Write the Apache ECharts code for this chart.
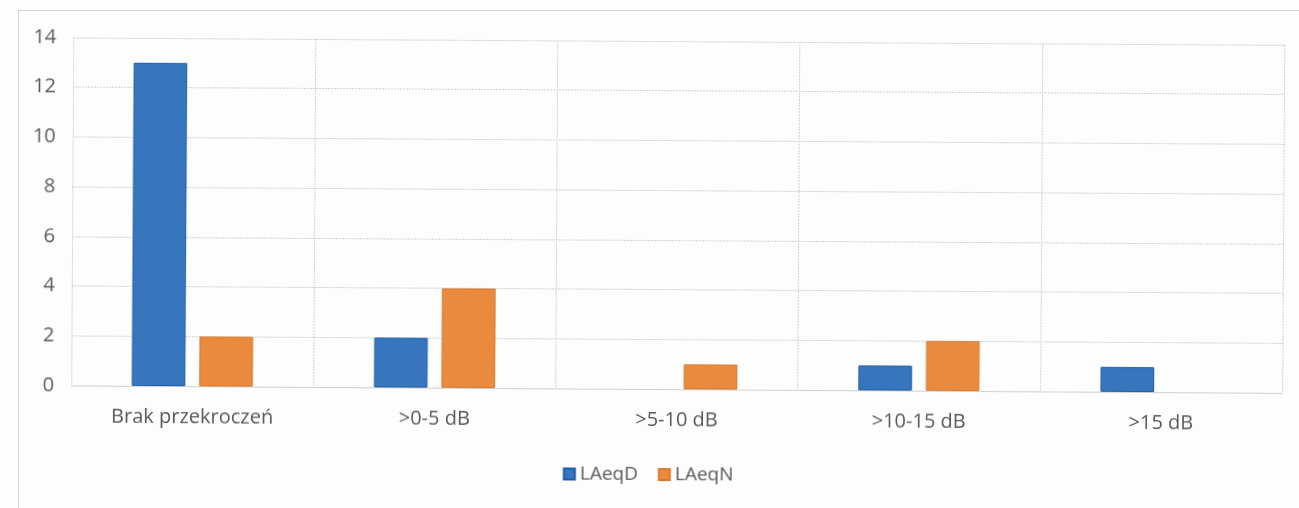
<!DOCTYPE html>
<html>
<head>
<meta charset="utf-8">
<script src="https://cdn.jsdelivr.net/npm/echarts@6/dist/echarts.min.js"></script>
<style>
  html, body { margin: 0; padding: 0; background: #fdfdfd; overflow: hidden; }
  #frame {
    position: absolute; left: 18px; top: 10px; width: 1300px; height: 520px;
    border-left: 1px solid #d4d4d4; border-top: 1px solid #d4d4d4;
  }
  #chart {
    position: absolute; left: 0; top: 0; width: 1299px; height: 508px;
    transform: rotate(0.35deg); transform-origin: 650px 254px;
  }
</style>
</head>
<body>
<div id="frame"></div>
<div id="chart"></div>
<script>
// Number of measurement points by exceedance class, day and night
const categories = ['Brak przekroczeń', '>0-5 dB', '>5-10 dB', '>10-15 dB', '>15 dB'];
const laeqD = [13, 2, 0, 1, 1];
const laeqN = [2, 4, 1, 2, 0];
const yTicks = [0, 2, 4, 6, 8, 10, 12, 14];

const textColor = '#595959';
const font = '"Open Sans", "Noto Sans", sans-serif';
const fontSize = 20;
const gridColor = '#d0d0d0';

// zero values get no outline so they leave no trace on the baseline
const barData = values => values.map(v => (v === 0 ? { value: v, itemStyle: { borderWidth: 0, opacity: 0 } } : v));

const chart = echarts.init(document.getElementById('chart'), null, { renderer: 'canvas' });
chart.setOption({
  backgroundColor: 'transparent',
  animation: false,
  grid: { left: 72, right: 16, top: 41, bottom: 119, containLabel: false },
  legend: {
    bottom: 19, left: 'center',
    itemWidth: 11, itemHeight: 11, itemGap: 20,
    icon: 'rect',
    textStyle: { color: textColor, fontFamily: font, fontSize: 19 },
    data: ['LAeqD', 'LAeqN']
  },
  xAxis: {
    type: 'category',
    data: categories,
    axisLine: { show: true, lineStyle: { color: gridColor, width: 1 } },
    axisTick: { show: false },
    splitLine: { show: true, lineStyle: { color: gridColor, type: [2, 1] } },
    axisLabel: { color: textColor, fontFamily: font, fontSize: fontSize, margin: 21 }
  },
  yAxis: {
    type: 'value',
    min: yTicks[0], max: yTicks[yTicks.length - 1], interval: 2,
    axisLine: { show: false },
    axisTick: { show: false },
    splitLine: { show: true, lineStyle: { color: gridColor, type: [2, 1] } },
    axisLabel: { color: textColor, fontFamily: font, fontSize: fontSize, margin: 17 }
  },
  series: [
    {
      name: 'LAeqD', type: 'bar', data: barData(laeqD),
      barGap: '26%', barCategoryGap: '50%',
      itemStyle: { color: '#3775bd', borderColor: '#1d5ea8', borderWidth: 1 }
    },
    {
      name: 'LAeqN', type: 'bar', data: barData(laeqN),
      barGap: '26%', barCategoryGap: '50%',
      itemStyle: { color: '#e98a3e', borderColor: '#d9782a', borderWidth: 1 }
    }
  ]
});
</script>
</body>
</html>
